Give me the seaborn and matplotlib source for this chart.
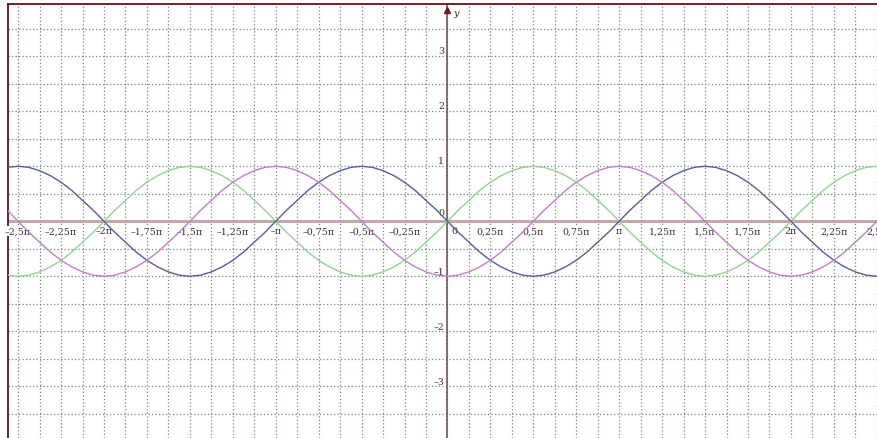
import numpy as np
import pandas as pd
import matplotlib.pyplot as plt
import seaborn as sns

sns.set_theme(style="white")
plt.rcParams['font.family'] = ['DejaVu Serif', 'DejaVu Sans']

# one period of the sine wave, read every pi/16 (32 samples per 2*pi)
wave = [0, .2, .38, .56, .71, .83, .92, .98, 1, .98, .92, .83, .71, .56, .38, .2,
        0, -.2, -.38, -.56, -.71, -.83, -.92, -.98, -1, -.98, -.92, -.83, -.71, -.56, -.38, -.2]

# x in units of pi, from -2.625 pi to 2.625 pi
x_pi = np.arange(-42, 43) / 16
green = list(np.roll(np.tile(wave, 3), -(96 - 42) % 32)[:len(x_pi)])   # sin x
blue = [-v for v in green]                                              # -sin x
pink = list(-np.roll(np.tile(wave, 3), -(96 - 42 + 8) % 32)[:len(x_pi)])  # -cos x

xtick_pos = [-2.5, -2.25, -2, -1.75, -1.5, -1.25, -1, -0.75, -0.5, -0.25, 0.25, 0.5, 0.75, 1, 1.25, 1.5, 1.75, 2, 2.25, 2.5]
xtick_lab = ["–2,5π", "–2,25π", "–2π", "–1,75π", "–1,5π", "–1,25π", "–π", "–0,75π", "–0,5π", "–0,25π",
             "0,25π", "0,5π", "0,75π", "π", "1,25π", "1,5π", "1,75π", "2π", "2,25π", "2,5π"]
ytick_pos = [-3, -2, -1, 1, 2, 3]
ytick_lab = ["–3", "–2", "–1", "1", "2", "3"]

df = pd.DataFrame({"x": np.concatenate([x_pi] * 3),
                   "y": green + blue + pink,
                   "curve": ["sin"] * len(x_pi) + ["-sin"] * len(x_pi) + ["-cos"] * len(x_pi)})

fig = plt.figure(figsize=(8.78, 4.39), dpi=100)
ax = fig.add_axes([8 / 878, 0, 870 / 878, 434 / 439])
ax.set_xlim(-2.559, 2.507)
ax.set_ylim(-3.94, 3.95)

# grid
for gx in np.arange(-20, 21) / 8:
    ax.axvline(gx, color="#6f8f76", lw=0.9, ls=(0, (1, 1.8)), zorder=1)
for gy in np.arange(-7, 8) / 2:
    ax.axhline(gy, color="#6f8f76", lw=0.9, ls=(0, (1, 1.8)), zorder=1)

# axes
ax.axhline(0, color="#bfa9a9", lw=2.2, zorder=2)
ax.axvline(0, color="#6e4b4b", lw=1.1, zorder=2)

sns.lineplot(data=df, x="x", y="y", hue="curve", sort=False, estimator=None,
             palette={"sin": "#8fd58f", "-sin": "#5a5c9c", "-cos": "#c47ccb"},
             linewidth=1, legend=False, ax=ax, zorder=4)

for p, lab in zip(xtick_pos, xtick_lab):
    ax.annotate(lab, (p, 0), xytext=(0, -7), textcoords="offset points", ha="center", va="center",
                fontsize=6.8, color="#333333", zorder=3,
                bbox=dict(boxstyle="square,pad=0.05", fc="white", ec="none"))
ax.annotate("0", (0, 0), xytext=(2.5, -7), textcoords="offset points", ha="left", va="center",
            fontsize=6.8, color="#333333", zorder=3)
ax.annotate("0", (0, 0), xytext=(-2.5, 6.5), textcoords="offset points", ha="right", va="center",
            fontsize=6.8, color="#333333", zorder=3)
for p, lab in zip(ytick_pos, ytick_lab):
    ax.annotate(lab, (0, p), xytext=(-2.5, 3.8), textcoords="offset points", ha="right", va="center",
                fontsize=6.8, color="#333333", zorder=3)

# y arrow
ax.plot([0], [3.84], marker="^", color="#6e2020", markersize=5, clip_on=False, zorder=5)
ax.annotate("y", (0, 3.84), xytext=(4, -1.5), textcoords="offset points", ha="left", va="center",
            fontsize=7, style="italic", color="#333333")

ax.set_xlabel("")
ax.set_ylabel("")
ax.set_xticks([])
ax.set_yticks([])
for s in ["right", "bottom"]:
    ax.spines[s].set_visible(False)
for s in ["top", "left"]:
    ax.spines[s].set_color("#6b0f0f")
    ax.spines[s].set_linewidth(1.3)

fig.savefig("out.png", dpi=100)
